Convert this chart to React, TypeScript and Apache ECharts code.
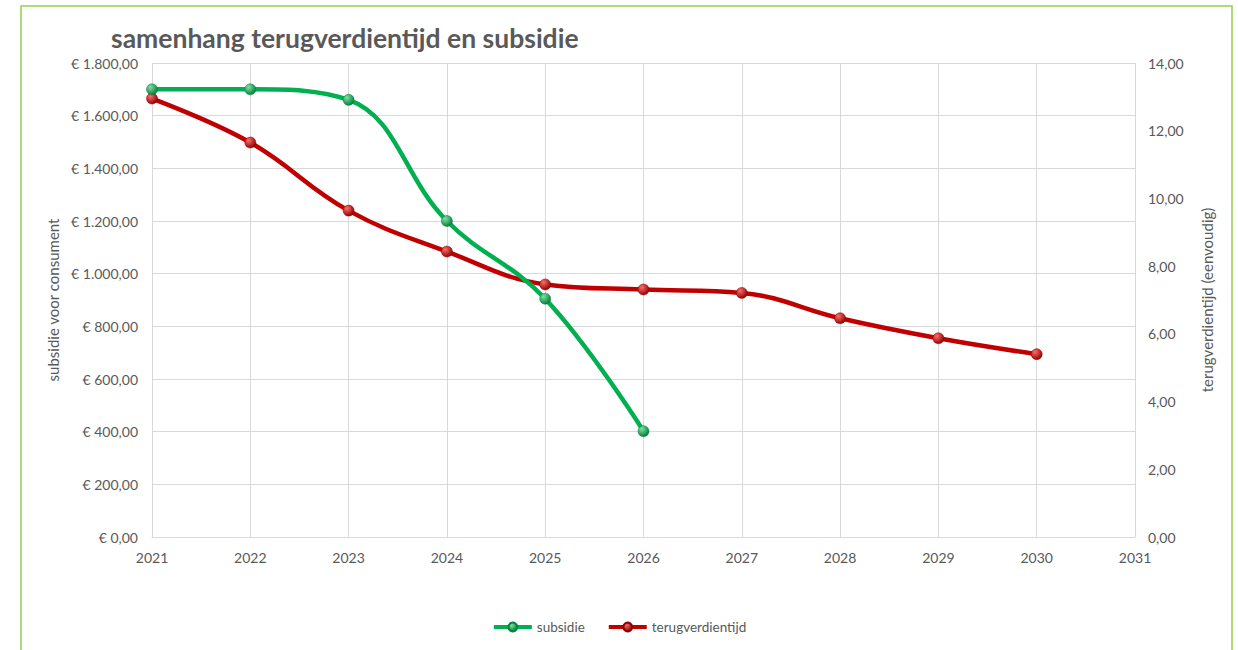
import React, { useEffect, useRef } from "react";
import * as echarts from "echarts";

const years = ["2021", "2022", "2023", "2024", "2025", "2026", "2027", "2028", "2029", "2030", "2031"];
const subsidie = [1700, 1700, 1660, 1200, 905, 402];
const terugverdientijd = [12.95, 11.65, 9.64, 8.43, 7.46, 7.31, 7.21, 6.46, 5.87, 5.4];

const GREEN = "#00B050";
const RED = "#C00000";
const TXT = "#595959";
const GRID = "#D9D9D9";
const FONT = "Lato, 'Open Sans', sans-serif";

function nl(v: number): string {
  const [i, d] = Math.abs(v).toFixed(2).split(".");
  const withDots = i.replace(/\B(?=(\d{3})+(?!\d))/g, ".");
  return (v < 0 ? "-" : "") + withDots + "," + d;
}

function ball(c1: string, c2: string) {
  return new echarts.graphic.RadialGradient(0.35, 0.3, 0.75, [
    { offset: 0, color: c1 },
    { offset: 1, color: c2 },
  ]);
}

export default function App() {
  const ref = useRef<HTMLDivElement>(null);
  useEffect(() => {
    if (!ref.current) return;
    const chart = echarts.init(ref.current, undefined, { renderer: "svg" });
    chart.setOption({
      animation: false,
      backgroundColor: "#ffffff",
      title: {
        text: "samenhang terugverdientijd en subsidie",
        left: 111,
        top: 24,
        padding: 0,
        textStyle: { fontFamily: FONT, fontSize: 26.5, lineHeight: 28, fontWeight: "bold", color: TXT },
      },
      graphic: [
        {
          type: "rect",
          shape: { x: 21, y: 6, width: 1211, height: 660 },
          style: { fill: "none", stroke: "#92D050", lineWidth: 1.5 },
          silent: true,
        },
      ],
      legend: {
        bottom: 11,
        left: "center",
        itemWidth: 38,
        itemHeight: 11,
        itemGap: 22,
        lineStyle: { width: 4 },
        textStyle: { fontFamily: FONT, fontSize: 13.5, color: TXT },
        data: ["subsidie", "terugverdientijd"],
      },
      grid: { left: 152, right: 103, top: 63, bottom: 113 },
      xAxis: {
        type: "category",
        data: years,
        boundaryGap: false,
        axisLine: { show: true, lineStyle: { color: GRID } },
        axisTick: { show: false },
        splitLine: { show: true, lineStyle: { color: GRID, width: 1 } },
        axisLabel: { fontFamily: FONT, fontSize: 14, color: TXT, margin: 13 },
      },
      yAxis: [
        {
          type: "value",
          min: 0,
          max: 1800,
          interval: 200,
          name: "subsidie voor consument",
          nameLocation: "middle",
          nameRotate: 90,
          nameGap: 90,
          nameTextStyle: { fontFamily: FONT, fontSize: 15, color: TXT },
          axisLine: { show: false },
          axisTick: { show: false },
          splitLine: { show: true, lineStyle: { color: GRID, width: 1 } },
          axisLabel: {
            fontFamily: FONT,
            fontSize: 14,
            lineHeight: 15,
            color: TXT,
            margin: 14,
            formatter: (v: number) => "€ " + nl(v),
          },
        },
        {
          type: "value",
          min: 0,
          max: 14,
          interval: 2,
          position: "right",
          name: "terugverdientijd (eenvoudig)",
          nameLocation: "middle",
          nameRotate: 90,
          nameGap: 64,
          nameTextStyle: { fontFamily: FONT, fontSize: 15, color: TXT },
          axisLine: { show: false },
          axisTick: { show: false },
          splitLine: { show: false },
          axisLabel: {
            fontFamily: FONT,
            fontSize: 14,
            color: TXT,
            margin: 13,
            formatter: (v: number) => nl(v),
          },
        },
      ],
      series: [
        {
          name: "subsidie",
          type: "line",
          yAxisIndex: 0,
          data: subsidie,
          smooth: 0.4,
          symbol: "circle",
          symbolSize: 11,
          lineStyle: { color: GREEN, width: 4.5 },
          itemStyle: { color: ball("#7FE0A5", "#007A35"), borderColor: "#00853A", borderWidth: 0.5 },
          z: 3,
        },
        {
          name: "terugverdientijd",
          type: "line",
          yAxisIndex: 1,
          data: terugverdientijd,
          smooth: 0.4,
          symbol: "circle",
          symbolSize: 11,
          lineStyle: { color: RED, width: 4.5 },
          itemStyle: { color: ball("#FF6A6A", "#8A0000"), borderColor: "#900000", borderWidth: 0.5 },
          z: 2,
        },
      ],
    });
    return () => chart.dispose();
  }, []);
  return (
    <div
      ref={ref}
      style={{ position: "fixed", left: 0, top: 0, width: 1238, height: 650 }}
    />
  );
}
